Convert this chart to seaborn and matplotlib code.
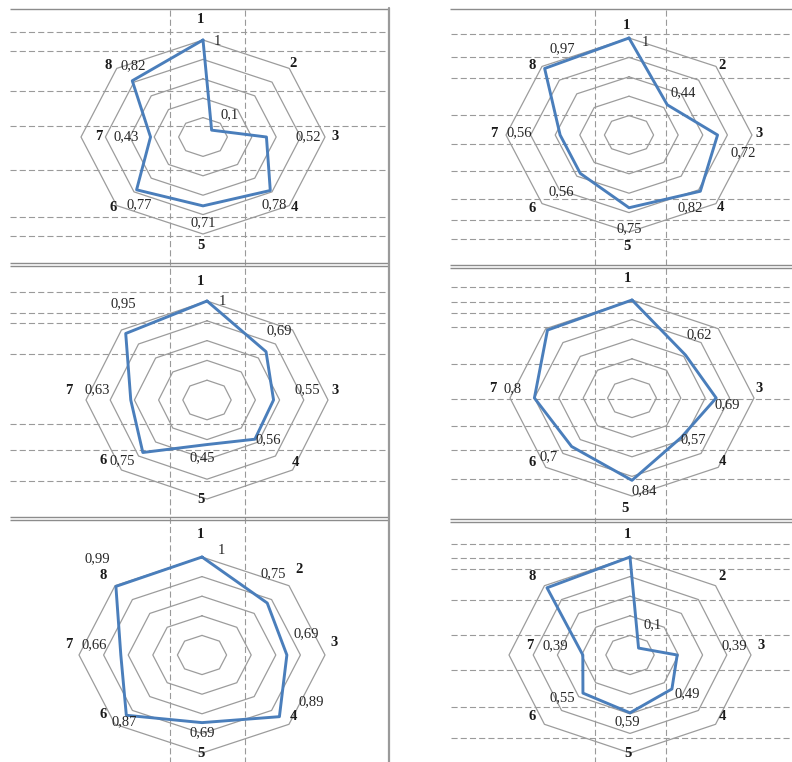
import numpy as np
import pandas as pd
import matplotlib
matplotlib.use("Agg")
import matplotlib.pyplot as plt
import seaborn as sns

# ---------------- data ----------------
categories = ["1", "2", "3", "4", "5", "6", "7", "8"]

p1_values = [1.00, 0.10, 0.52, 0.78, 0.71, 0.77, 0.43, 0.82]
p1_labels = ["1", "0,1", "0,52", "0,78", "0,71", "0,77", "0,43", "0,82"]

p2_values = [1.00, 0.44, 0.72, 0.82, 0.75, 0.56, 0.56, 0.97]
p2_labels = ["1", "0,44", "0,72", "0,82", "0,75", "0,56", "0,56", "0,97"]

p3_values = [1.00, 0.69, 0.55, 0.56, 0.45, 0.75, 0.63, 0.95]
p3_labels = ["1", "0,69", "0,55", "0,56", "0,45", "0,75", "0,63", "0,95"]

p4_values = [1.00, 0.62, 0.69, 0.57, 0.84, 0.70, 0.80, 0.98]
p4_labels = [None, "0,62", "0,69", "0,57", "0,84", "0,7", "0,8", None]

p5_values = [1.00, 0.75, 0.69, 0.89, 0.69, 0.87, 0.66, 0.99]
p5_labels = ["1", "0,75", "0,69", "0,89", "0,69", "0,87", "0,66", "0,99"]

p6_values = [1.00, 0.10, 0.39, 0.49, 0.59, 0.55, 0.39, 0.97]
p6_labels = [None, "0,1", "0,39", "0,49", "0,59", "0,55", "0,39", None]

ring_levels = [0.2, 0.4, 0.6, 0.8, 1.0]

# ---------------- layout (pixels / radar units) ----------------
W, H = 792, 762
panels = [
    dict(vals=p1_values, labs=p1_labels, cx=203, cy=137, rx=122, ry=97,
         cat_show=[1, 1, 1, 1, 1, 1, 1, 1],
         cat_pos=[(-0.02, 1.21), (0.74, 0.76), (1.08, 0.0), (0.75, -0.73),
                  (-0.02, -1.12), (-0.74, -0.73), (-0.85, 0.0), (-0.78, 0.74)],
         lab_pos=[(0.12, 0.98), (0.22, 0.23), (0.86, 0.0), (0.58, -0.70),
                  (0.0, -0.88), (-0.52, -0.70), (-0.63, 0.0), (-0.57, 0.74)]),
    dict(vals=p2_values, labs=p2_labels, cx=629, cy=135, rx=123, ry=97,
         cat_show=[1, 1, 1, 1, 1, 1, 1, 1],
         cat_pos=[(-0.02, 1.13), (0.76, 0.72), (1.06, 0.02), (0.74, -0.75),
                  (-0.02, -1.15), (-0.79, -0.76), (-1.10, 0.02), (-0.79, 0.72)],
         lab_pos=[(0.13, 0.95), (0.44, 0.44), (0.93, -0.18), (0.50, -0.75),
                  (0.0, -0.97), (-0.55, -0.58), (-0.89, 0.02), (-0.54, 0.89)]),
    dict(vals=p3_values, labs=p3_labels, cx=207, cy=400, rx=121, ry=99,
         cat_show=[1, 0, 1, 1, 1, 1, 1, 0],
         cat_pos=[(-0.05, 1.20), (0.8, 0.8), (1.06, 0.10), (0.73, -0.63),
                  (-0.05, -1.01), (-0.86, -0.61), (-1.14, 0.10), (-0.8, 0.8)],
         lab_pos=[(0.13, 0.99), (0.60, 0.70), (0.83, 0.10), (0.51, -0.40),
                  (-0.04, -0.58), (-0.70, -0.61), (-0.91, 0.10), (-0.69, 0.97)]),
    dict(vals=p4_values, labs=p4_labels, cx=632, cy=398, rx=122, ry=98,
         cat_show=[1, 0, 1, 1, 1, 1, 1, 0],
         cat_pos=[(-0.04, 1.22), (0.8, 0.8), (1.04, 0.10), (0.74, -0.65),
                  (-0.06, -1.13), (-0.82, -0.66), (-1.14, 0.10), (-0.8, 0.8)],
         lab_pos=[(0, 0), (0.55, 0.65), (0.78, -0.07), (0.50, -0.43),
                  (0.10, -0.95), (-0.68, -0.60), (-0.98, 0.10), (0, 0)]),
    dict(vals=p5_values, labs=p5_labels, cx=202, cy=655, rx=123, ry=98,
         cat_show=[1, 1, 1, 1, 1, 1, 1, 1],
         cat_pos=[(-0.01, 1.23), (0.79, 0.87), (1.07, 0.13), (0.74, -0.63),
                  (-0.01, -1.01), (-0.80, -0.61), (-1.08, 0.11), (-0.80, 0.81)],
         lab_pos=[(0.16, 1.07), (0.58, 0.83), (0.85, 0.22), (0.89, -0.48),
                  (0.0, -0.79), (-0.63, -0.68), (-0.88, 0.11), (-0.85, 0.98)]),
    dict(vals=p6_values, labs=p6_labels, cx=630, cy=655, rx=121, ry=98,
         cat_show=[1, 1, 1, 1, 1, 1, 1, 1],
         cat_pos=[(-0.02, 1.23), (0.76, 0.80), (1.08, 0.10), (0.76, -0.63),
                  (-0.02, -1.01), (-0.81, -0.63), (-0.83, 0.10), (-0.81, 0.80)],
         lab_pos=[(0, 0), (0.19, 0.31), (0.86, 0.10), (0.47, -0.39),
                  (-0.02, -0.68), (-0.56, -0.44), (-0.62, 0.10), (0, 0)]),
]

# background decoration (pixel coordinates)
left_dash_y = [32, 51, 91, 126, 170, 217, 236,
               292, 313, 323, 354, 424, 450, 481]
right_dash_y = [34, 57, 78, 115, 144, 171, 199, 220, 239,
                287, 302, 313, 327, 364, 399, 426, 450, 479,
                544, 558, 569, 600, 635, 670, 707, 738]
left_vdash_x = [170, 245]
right_vdash_x = [595, 666]

sns.set_theme(style="white")
plt.rcParams["font.family"] = ["Liberation Serif", "DejaVu Serif"]

fig = plt.figure(figsize=(W / 100, H / 100), dpi=100)
fig.patch.set_facecolor("white")

bg = fig.add_axes([0, 0, 1, 1])
bg.set_xlim(0, W)
bg.set_ylim(H, 0)
bg.axis("off")

dash_kw = dict(color="#9a9a9a", lw=0.8, linestyle=(0, (5.5, 2.8)))
for y in left_dash_y:
    bg.plot([10, 388], [y, y], **dash_kw)
for y in right_dash_y:
    bg.plot([451, 792], [y, y], **dash_kw)
for x in left_vdash_x:
    bg.plot([x, x], [10, 762], **dash_kw)
for x in right_vdash_x:
    bg.plot([x, x], [10, 762], **dash_kw)

solid_kw = dict(color="#8c8c8c", lw=1.0, solid_capstyle="butt")
bg.plot([10, 389], [9, 9], **solid_kw)
bg.plot([450, 792], [9, 9], **solid_kw)
for y in (263, 266, 517, 520):
    bg.plot([10, 389], [y, y], **solid_kw)
for y in (265, 268, 519, 522):
    bg.plot([450, 792], [y, y], **solid_kw)
bg.plot([389, 389], [8, 762], color="#9a9a9a", lw=1.6)

angles = np.deg2rad(np.arange(8) * 45.0)
XL, YL = 1.6, 1.3

for p in panels:
    rect = [(p["cx"] - XL * p["rx"]) / W,
            1 - (p["cy"] + YL * p["ry"]) / H,
            2 * XL * p["rx"] / W,
            2 * YL * p["ry"] / H]
    ax = fig.add_axes(rect)
    ax.set_xlim(-XL, XL)
    ax.set_ylim(-YL, YL)
    ax.axis("off")
    ax.patch.set_alpha(0)

    # rings
    for r in ring_levels:
        ring = pd.DataFrame({"x": np.append(r * np.sin(angles), 0.0),
                             "y": np.append(r * np.cos(angles), r)})
        ax.plot(ring["x"], ring["y"], color="#9c9c9c", lw=0.9)

    vals = np.array(p["vals"])
    df = pd.DataFrame({"x": np.append(vals * np.sin(angles), vals[0] * np.sin(angles[0])),
                       "y": np.append(vals * np.cos(angles), vals[0] * np.cos(angles[0])),
                       "order": np.arange(9)})
    sns.lineplot(data=df, x="x", y="y", sort=False, estimator=None,
                 color="#4a7ebb", lw=2.1, ax=ax)
    ax.set_xlabel("")
    ax.set_ylabel("")

    for i, cat in enumerate(categories):
        if p["cat_show"][i]:
            x, y = p["cat_pos"][i]
            ax.text(x, y, cat, ha="center", va="center", fontsize=10.5,
                    fontweight="bold", color="#1a1a1a", clip_on=False)
        lab = p["labs"][i]
        if lab is not None:
            x, y = p["lab_pos"][i]
            ax.text(x, y, lab, ha="center", va="center", fontsize=10.5,
                    color="#262626", clip_on=False)

fig.savefig("out.png", dpi=100, facecolor="white")
